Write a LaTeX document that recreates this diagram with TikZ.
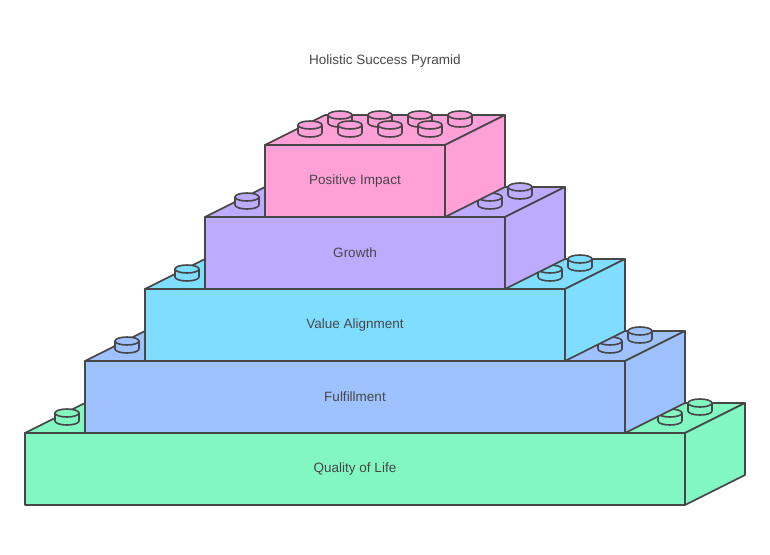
\documentclass[tikz,border=0pt]{standalone}
\usepackage{fontspec}
\setmainfont{Liberation Sans}
\begin{document}
\begin{tikzpicture}[x=1pt,y=-1pt,line width=1.6pt,line join=round,
  edge/.style={draw=black!72},
  lbl/.style={font=\fontsize{13.5}{16}\selectfont,text=black!72},
  stud/.pic={\path[edge,fill=\bc] (-12,0) -- (-12,8) arc[start angle=180,end angle=360,x radius=12,y radius=-4] -- (12,0) -- cycle;
             \path[edge,fill=\bc] (0,0) ellipse[x radius=12,y radius=4];}]
\useasboundingbox (0,0) rectangle (770,554);
\node[lbl] (title) at (385,61) {Holistic Success Pyramid};
% brick macro: #1 left x, #2 right x, #3 top y, #4 colour, #5 name, #6 label
\newcommand\brick[6]{%
  \def\bc{#4}%
  \path[edge,fill=#4] (#1,#3) -- (#1+60,#3-30) -- (#2+60,#3-30) -- (#2,#3) -- cycle;
  \path[edge,fill=#4] (#2,#3) -- (#2+60,#3-30) -- (#2+60,#3+42) -- (#2,#3+72) -- cycle;
  \path[edge,fill=#4] (#1,#3) rectangle (#2,#3+72);
  \node[lbl] (#5) at ({(#1+#2)/2},#3+36) {#6};}
\definecolor{cA}{HTML}{82F7C2}
\definecolor{cB}{HTML}{9EC2FF}
\definecolor{cC}{HTML}{7FDEFF}
\definecolor{cD}{HTML}{BDABFF}
\definecolor{cE}{HTML}{FFA0D9}
\brick{25}{685}{433}{cA}{q}{Quality of Life}
\pic at (67,413) {stud}; \pic at (700,403) {stud}; \pic at (670,413) {stud};
\brick{85}{625}{361}{cB}{f}{Fulfillment}
\pic at (127,341) {stud}; \pic at (640,331) {stud}; \pic at (610,341) {stud};
\brick{145}{565}{289}{cC}{v}{Value Alignment}
\pic at (187,269) {stud}; \pic at (580,259) {stud}; \pic at (550,269) {stud};
\brick{205}{505}{217}{cD}{g}{Growth}
\pic at (247,197) {stud}; \pic at (520,187) {stud}; \pic at (490,197) {stud};
\brick{265}{445}{145}{cE}{p}{Positive Impact}
\foreach \sx in {340,380,420,460} {\pic at (\sx,115) {stud};}
\foreach \sx in {310,350,390,430} {\pic at (\sx,125) {stud};}
\end{tikzpicture}
\end{document}
